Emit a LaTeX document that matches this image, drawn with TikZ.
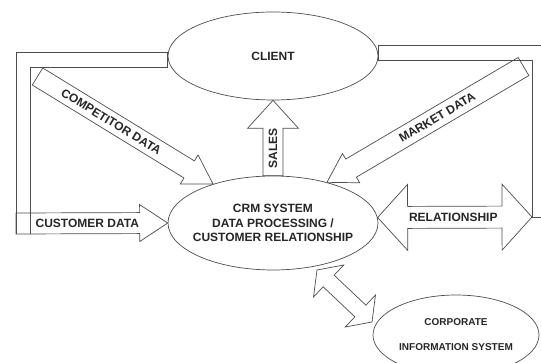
\documentclass[tikz,border=0pt]{standalone}
\usepackage{fontspec}
\setmainfont{Liberation Sans}
\usetikzlibrary{shapes.geometric,calc}

\tikzset{
  line/.style={draw=black!70, line width=0.7pt},
  lbl/.style={font=\bfseries\fontsize{12}{14.5}\selectfont, text=black!85, inner sep=0pt, align=center},
  bubble/.style={ellipse, line, inner sep=0pt, font=\bfseries\fontsize{12}{14.5}\selectfont, text=black!85, align=center}
}

% tail, tip, half body, half head, head length
\newcommand{\blockarrow}[5]{%
  \draw[line] ($(#1)!#3!90:(#2)$) -- ($(#2)!#5!(#1)!#3!-90:(#1)$) -- ($(#2)!#5!(#1)!#4!-90:(#1)$) -- (#2)
    -- ($(#2)!#5!(#1)!#4!90:(#1)$) -- ($(#2)!#5!(#1)!#3!90:(#1)$) -- ($(#1)!#3!-90:(#2)$) -- cycle;}
% tip, tip, half body, half head, head length
\newcommand{\doublearrow}[5]{%
  \draw[line] ($(#1)!#5!(#2)!#3!90:(#2)$) -- ($(#1)!#5!(#2)!#4!90:(#2)$) -- (#1) -- ($(#1)!#5!(#2)!#4!-90:(#2)$)
    -- ($(#1)!#5!(#2)!#3!-90:(#2)$) -- ($(#2)!#5!(#1)!#3!90:(#1)$) -- ($(#2)!#5!(#1)!#4!90:(#1)$) -- (#2)
    -- ($(#2)!#5!(#1)!#4!-90:(#1)$) -- ($(#2)!#5!(#1)!#3!-90:(#1)$) -- cycle;}

\begin{document}
\begin{tikzpicture}[x=1pt,y=-1pt]
  \useasboundingbox (0,0) rectangle (541,363);
  \clip (0,0) rectangle (541,363);

  \node[bubble, minimum width=210pt, minimum height=88pt] (client) at (273,56) {CLIENT};
  \node[bubble, minimum width=210pt, minimum height=94pt] (crm) at (273,223) {};
  \node[lbl] (crmtext) at (crm.center) {CRM SYSTEM\\DATA PROCESSING /\\CUSTOMER RELATIONSHIP};
  \node[bubble, minimum width=166pt, minimum height=80pt, font=\bfseries\fontsize{10}{25}\selectfont] (corp) at (456,335) {CORPORATE\\INFORMATION SYSTEM};

  \coordinate (cdtail) at (16,223.5);
  \coordinate (cptail) at (37.5,76.5);
  \coordinate (mdtail) at (523.5,66.5);
  \coordinate (rlend) at (532,217);
  \coordinate (cisa) at (317,270);
  \coordinate (cisb) at (372,322);

  \draw[line] (16,234) |- ($(client.west)+(0,-4)$) -- ($(client.west)+(0,11)$) -| (30,234);
  \draw[line] (541,45) -- ($(client.east)+(0,-11)$) -- ($(client.east)+(0,4)$) -| (rlend) -- (541,217);

  \blockarrow{crm.north}{client.south}{10pt}{25.5pt}{28pt}
  \blockarrow{cdtail}{crm.west}{10.5pt}{18.5pt}{28pt}
  \blockarrow{cptail}{crm.147}{10pt}{17pt}{28pt}
  \blockarrow{mdtail}{crm.37}{10.5pt}{17pt}{28pt}
  \doublearrow{crm.3}{rlend}{11pt}{33pt}{30pt}
  \doublearrow{cisa}{cisb}{8pt}{22pt}{16pt}

  \node[lbl] (cdlbl) at ($(cdtail)!0.47!(crm.west)$) {CUSTOMER DATA};
  \node[lbl, rotate=90] (salelbl) at ($(crm.north)!0.36!(client.south)$) {SALES};
  \node[lbl, rotate=-31.6] (cplbl) at ($(cptail)!0.42!(crm.147)$) {COMPETITOR DATA};
  \node[lbl, rotate=30.6] (mdlbl) at ($(mdtail)!0.44!(crm.37)$) {MARKET DATA};
  \node[lbl] (rllbl) at ($(crm.3)!0.49!(rlend)$) {RELATIONSHIP};
\end{tikzpicture}
\end{document}
